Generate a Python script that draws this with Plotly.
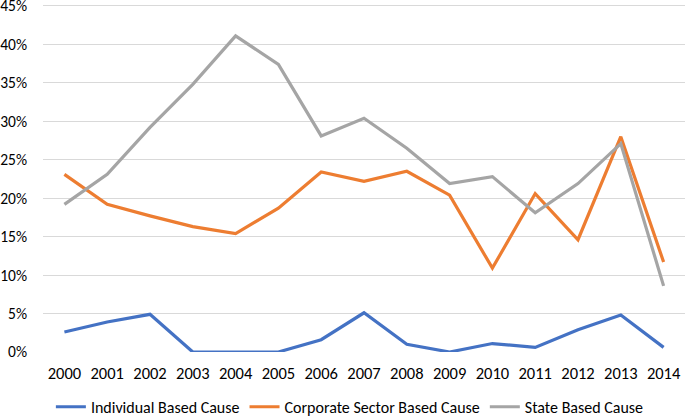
import plotly.graph_objects as go

years = [str(y) for y in range(2000, 2015)]
individual = [2.6, 3.9, 4.9, 0.0, 0.0, 0.0, 1.6, 5.1, 1.0, 0.0, 1.1, 0.6, 2.9, 4.8, 0.6]
corporate = [23.1, 19.2, 17.7, 16.3, 15.4, 18.7, 23.4, 22.2, 23.5, 20.4, 10.9, 20.6, 14.6, 28.0, 11.7]
state = [19.2, 23.1, 29.2, 34.8, 41.1, 37.4, 28.1, 30.4, 26.5, 21.9, 22.8, 18.1, 21.9, 27.1, 8.6]

names = ["Individual Based Cause", "Corporate Sector Based Cause", "State Based Cause"]
colors = ["#4472C4", "#ED7D31", "#A5A5A5"]
series = [individual, corporate, state]

fig = go.Figure()
for name, col, vals in zip(names, colors, series):
    fig.add_trace(go.Scatter(x=years, y=[v / 100 for v in vals], mode="lines", name=name,
                             line=dict(color=col, width=3.2)))

font = "Carlito, 'Liberation Sans Narrow', 'Liberation Sans', Arial, sans-serif"
fig.update_layout(
    width=685, height=416,
    margin=dict(l=43, r=0, t=4, b=64),
    paper_bgcolor="white", plot_bgcolor="white",
    font=dict(family=font, size=16, color="#000000"),
    xaxis=dict(type="category", range=[-0.5, 14.5], showgrid=False, showline=False,
               automargin=False, ticks="", tickfont=dict(size=16.5, color="#000000"),
               ticklabelstandoff=9, ticklabeloverflow="allow"),
    yaxis=dict(range=[0, 0.4525], tickvals=[0, 0.05, 0.1, 0.15, 0.2, 0.25, 0.3, 0.35, 0.4, 0.45],
               tickformat=".0%", showgrid=True, automargin=False,
               gridcolor="#D9D9D9", gridwidth=1, zeroline=False, showline=False,
               tickfont=dict(size=15.5, color="#000000"), ticklabelstandoff=15,
               ticklabeloverflow="allow"),
    legend=dict(orientation="h", x=0.478, xanchor="center", yref="container",
                y=0.022, yanchor="middle",
                font=dict(size=16), itemwidth=30, tracegroupgap=0),
    showlegend=True,
)

fig.write_html("out.html", config={"displayModeBar": False},
               post_script="document.body.style.margin='0';document.body.style.overflow='hidden';")
